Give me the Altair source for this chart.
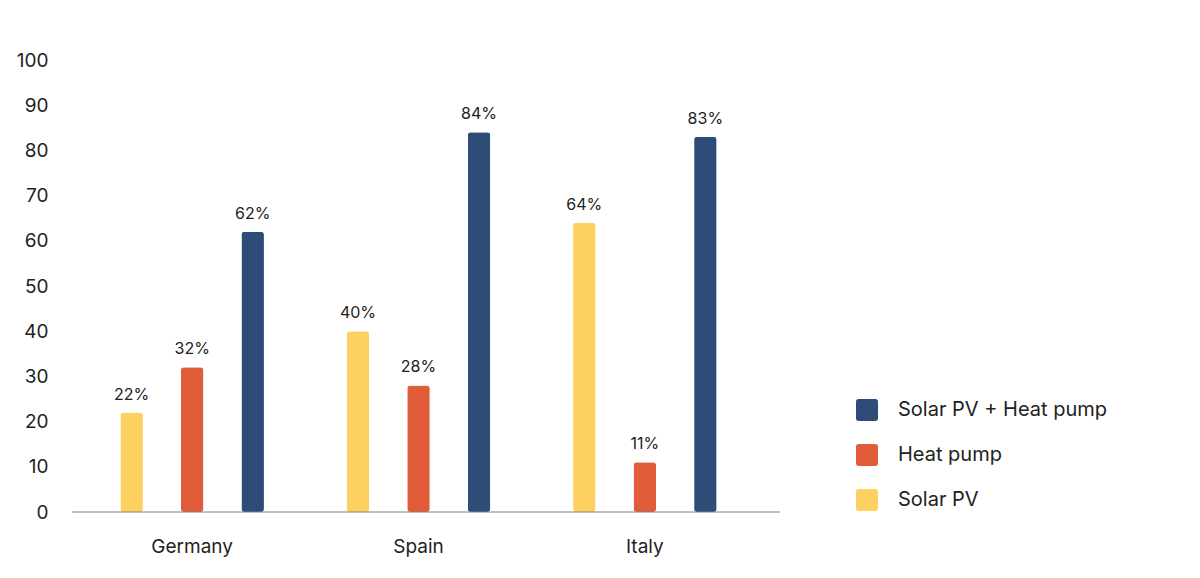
import altair as alt
import pandas as pd

countries = ["Germany", "Spain", "Italy"]
series = ["Solar PV", "Heat pump", "Solar PV + Heat pump"]
solar_pv = [22, 40, 64]
heat_pump = [32, 28, 11]
solar_hp = [62, 84, 83]
colors = {"Solar PV": "#FDD062", "Heat pump": "#E15D3A", "Solar PV + Heat pump": "#2D4C77"}
y_ticks = list(range(0, 101, 10))

rows = []
for i, c in enumerate(countries):
    for s, vals in zip(series, [solar_pv, heat_pump, solar_hp]):
        rows.append({"country": c, "series": s, "value": vals[i], "label": f"{vals[i]}%"})
df = pd.DataFrame(rows)

FONT = "Inter"
legend_order = list(reversed(series))

x_enc = alt.X("country:N", sort=countries, title=None,
              scale=alt.Scale(paddingInner=0, paddingOuter=0),
              axis=alt.Axis(domain=False, ticks=False, labelAngle=0, labelFontSize=19,
                            labelPadding=25, labelColor="#222222", labelFont=FONT))
xo_enc = alt.XOffset("series:N", sort=series,
                     scale=alt.Scale(paddingInner=0.628, paddingOuter=0.684))
y_enc = alt.Y("value:Q", title=None,
              scale=alt.Scale(domain=[0, 100], nice=False),
              axis=alt.Axis(values=y_ticks, domain=False, ticks=False, tickSize=0, grid=False,
                            labelFontSize=19, labelPadding=31, labelColor="#222222",
                            labelFont=FONT))

base = alt.Chart(df)

bars = base.mark_bar(cornerRadius=3).encode(
    x=x_enc,
    xOffset=xo_enc,
    y=y_enc,
    color=alt.Color("series:N",
                    scale=alt.Scale(domain=legend_order, range=[colors[s] for s in legend_order]),
                    legend=alt.Legend(title=None, orient="none", legendX=777, legendY=339,
                                      symbolType="M -0.75,-1 H 0.75 Q 1,-1 1,-0.75 V 0.75 Q 1,1 0.75,1 H -0.75 Q -1,1 -1,0.75 V -0.75 Q -1,-1 -0.75,-1 Z",
                                      symbolSize=484, symbolOpacity=1, symbolStrokeWidth=0,
                                      labelFontSize=20, labelFont=FONT, labelColor="#222222",
                                      labelOffset=20, rowPadding=23, padding=0,
                                      labelLimit=400)),
)

labels = base.mark_text(baseline="alphabetic", dy=-13, fontSize=16, font=FONT,
                        color="#222222").encode(
    x=alt.X("country:N", sort=countries),
    xOffset=alt.XOffset("series:N", sort=series),
    y="value:Q",
    text="label:N",
)

baseline = alt.Chart(pd.DataFrame({"v": [0]})).mark_rule(color="#808080", strokeWidth=1).encode(
    x=alt.value(-7), x2=alt.value(701), y="v:Q"
)

chart = alt.layer(bars, labels, baseline).properties(
    width=679, height=452,
    autosize=alt.AutoSizeParams(type="none"),
    padding={"left": 71, "top": 52, "right": 430, "bottom": 50},
).configure(background="white").configure_view(stroke=None)

chart.save("out.html", embed_options={"renderer": "svg", "actions": False})
